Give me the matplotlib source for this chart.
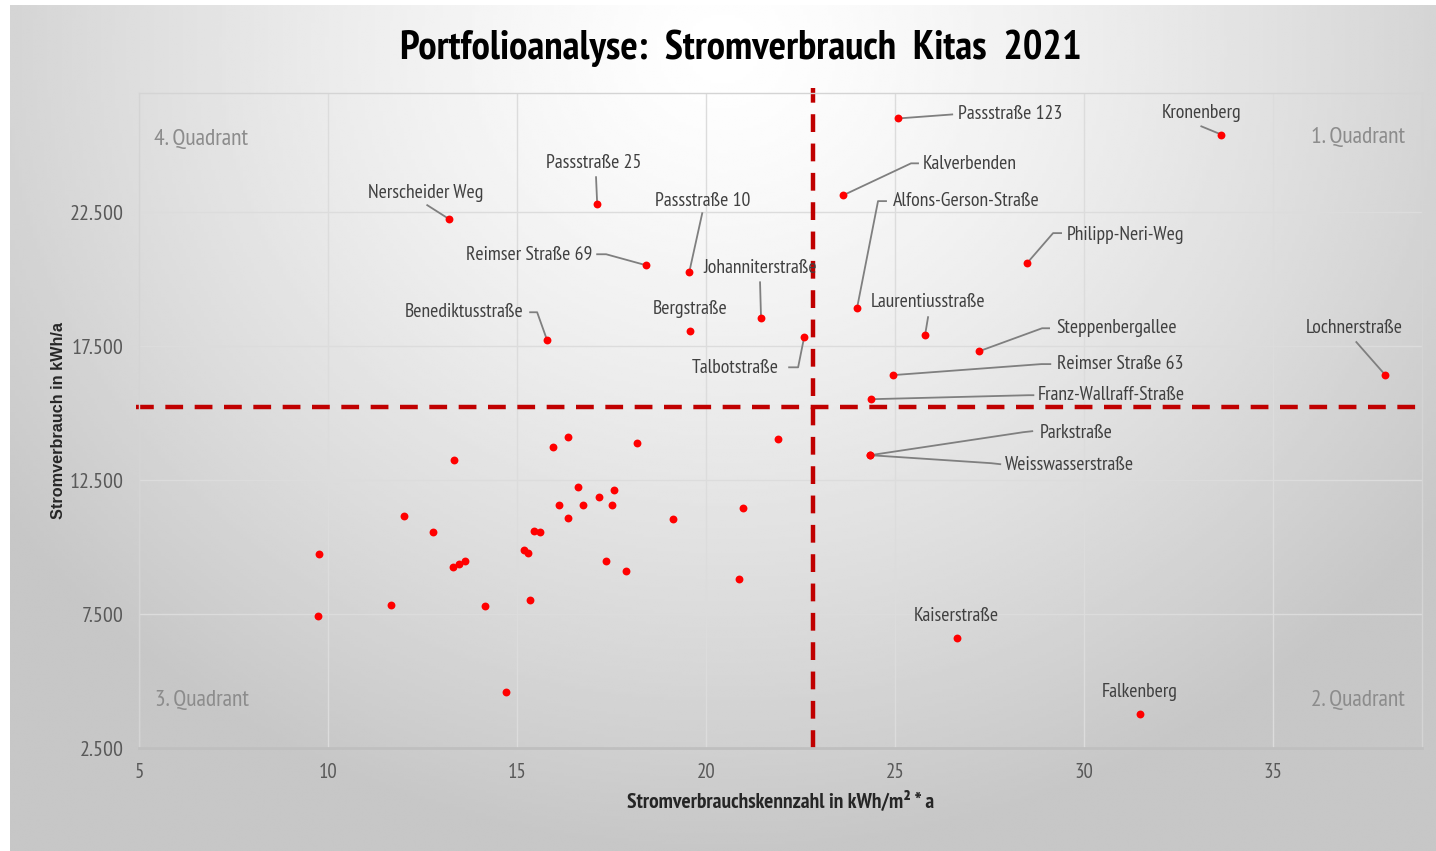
import numpy as np
import matplotlib
matplotlib.use("Agg")
import matplotlib.pyplot as plt
from matplotlib import font_manager
from matplotlib.ticker import FuncFormatter

# named kitas (x: kWh/m2*a, y: kWh/a)
names = ["Passstraße 123", "Kronenberg", "Kalverbenden", "Passstraße 25", "Nerscheider Weg",
         "Passstraße 10", "Alfons-Gerson-Straße", "Philipp-Neri-Weg", "Reimser Straße 69",
         "Johanniterstraße", "Bergstraße", "Laurentiusstraße", "Benediktusstraße", "Talbotstraße",
         "Steppenbergallee", "Reimser Straße 63", "Lochnerstraße", "Franz-Wallraff-Straße",
         "Parkstraße", "Weisswasserstraße", "Kaiserstraße", "Falkenberg"]
named_x = [25.09, 33.64, 23.63, 17.12, 13.21, 19.56, 24.0, 28.5, 18.42, 21.46, 19.58,
           25.8, 15.8, 22.6, 27.23, 24.96, 37.98, 24.38, 24.35, 24.35, 26.65, 31.5]
named_y = [26000, 25370, 23130, 22800, 22240, 20260, 18920, 20600, 20520, 18540, 18060,
           17910, 17720, 17830, 17310, 16420, 16420, 15520, 13430, 13430, 6600, 3770]

# other kitas without label
other_x = [21.91, 16.36, 15.96, 18.18, 13.34, 16.62, 17.57, 17.18, 16.12, 16.75, 17.52,
           12.01, 19.13, 20.99, 16.36, 12.78, 15.45, 15.61, 9.76, 15.19, 15.30, 17.36,
           13.47, 13.63, 13.31, 17.89, 20.88, 11.67, 14.16, 15.35, 9.74, 14.71]
other_y = [14030, 14100, 13730, 13880, 13250, 12240, 12130, 11870, 11570, 11570, 11570,
           11160, 11040, 11450, 11080, 10560, 10600, 10560, 9740, 9890, 9780, 9480,
           9370, 9480, 9250, 9100, 8810, 7840, 7800, 8020, 7430, 4590]

quad_x = 22.83
quad_y = 15220

# label layout in reference pixels relative to the point (dx right, dy down)
label_layout = {
    "Passstraße 123": (60, -4, "left", [(0, 0), (54, -4)]),
    "Kronenberg": (-20, -22, "center", [(-3, -2), (-20, -9)]),
    "Kalverbenden": (80, -31, "left", [(0, 0), (68, -32), (75, -32)]),
    "Passstraße 25": (-3, -41, "center", [(0, -4), (-1, -27)]),
    "Nerscheider Weg": (-24, -26, "center", [(0, 0), (-22, -14)]),
    "Passstraße 10": (13, -71, "center", [(0, 0), (13, -59)]),
    "Alfons-Gerson-Straße": (36, -107, "left", [(0, 0), (21, -107), (29, -107)]),
    "Philipp-Neri-Weg": (40, -28, "left", [(0, 0), (26, -30), (34, -30)]),
    "Reimser Straße 69": (-54, -10, "right", [(0, 0), (-40, -11), (-49, -11)]),
    "Johanniterstraße": (-58, -50, "left", [(0, 0), (-1, -36)]),
    "Bergstraße": (0, -22, "center", []),
    "Laurentiusstraße": (3, -33, "center", [(0, 0), (3, -18)]),
    "Benediktusstraße": (-24, -28, "right", [(0, 0), (-10, -28), (-17, -28)]),
    "Talbotstraße": (-25, 31, "right", [(0, 0), (-6, 30), (-15, 30)]),
    "Steppenbergallee": (77, -23, "left", [(0, 0), (63, -23), (70, -23)]),
    "Reimser Straße 63": (164, -11, "left", [(0, 0), (148, -11), (157, -11)]),
    "Lochnerstraße": (-31, -47, "center", [(0, 0), (-29, -33)]),
    "Franz-Wallraff-Straße": (166, -4, "left", [(0, 0), (157, -4), (162, -4)]),
    "Parkstraße": (169, -22, "left", [(0, 0), (153, -23), (162, -24)]),
    "Weisswasserstraße": (135, 10, "left", [(0, 0), (121, 8), (130, 9)]),
    "Kaiserstraße": (-1, -22, "center", []),
    "Falkenberg": (-1, -22, "center", []),
}

available = {f.name for f in font_manager.fontManager.ttflist}
narrow = "Liberation Sans"
for cand in ["Arial Narrow", "Liberation Sans Narrow", "PT Sans Narrow", "Archivo Narrow",
             "Roboto Condensed", "Fira Sans Condensed", "IBM Plex Sans Condensed"]:
    if cand in available:
        narrow = cand
        break
plt.rcParams['font.family'] = [narrow, 'DejaVu Sans']

W, H = 1436, 851
fig = plt.figure(figsize=(W / 100, H / 100), dpi=100)
fig.patch.set_facecolor("white")

# gray radial background
bg = fig.add_axes([10 / W, 0, 1 - 10 / W, 1 - 5 / H])
gx, gy = np.meshgrid(np.linspace(0, 1, 400), np.linspace(0, 1, 300))
r = np.sqrt(((gx - 0.5) / 0.62) ** 2 + ((gy - 0.05) / 0.95) ** 2)
val = 1.0 - 0.22 * np.clip(r, 0, 1) ** 1.3
bg.imshow(val, cmap="gray", vmin=0, vmax=1, aspect="auto", interpolation="bilinear",
          extent=(0, 1, 1, 0))
bg.set_axis_off()

ax = fig.add_axes([139 / W, 1 - 748 / H, (1422 - 139) / W, (748 - 93) / H])
ax.set_facecolor("none")
ax.set_xlim(5, 38.95)
ax.set_ylim(2500, 26950)
ax.set_xticks([5, 10, 15, 20, 25, 30, 35])
ax.set_yticks([2500, 7500, 12500, 17500, 22500])
ax.yaxis.set_major_formatter(FuncFormatter(lambda v, p: f"{v:,.0f}".replace(",", ".")))
ax.tick_params(length=0, labelsize=15, labelcolor="#595959")
ax.tick_params(axis="y", labelsize=15.8)
ax.tick_params(axis="x", pad=11)
ax.tick_params(axis="y", pad=11)
ax.grid(True, color="#dcdcdc", linewidth=1)
ax.set_axisbelow(True)
for s in ["top", "left", "right"]:
    ax.spines[s].set_color("#d4d4d4")
    ax.spines[s].set_linewidth(1)
ax.spines["bottom"].set_color("#bfbfbf")
ax.spines["bottom"].set_linewidth(2)

# quadrant lines
ax.axvline(quad_x, ymin=0, ymax=1.008, color="#c00000", linewidth=3.2, dashes=(4, 2.6),
           clip_on=False, zorder=2)
ax.axhline(quad_y, xmin=-0.002, xmax=1, color="#c00000", linewidth=3.2, dashes=(4, 2.6),
           clip_on=False, zorder=2)

ax.scatter(other_x, other_y, s=32, color="#ff0000", zorder=4, linewidths=0)
ax.scatter(named_x, named_y, s=32, color="#ff0000", zorder=4, linewidths=0)

inv = ax.transData.inverted()
for name, x, y in zip(names, named_x, named_y):
    dx, dy, ha, leader = label_layout[name]
    px, py = ax.transData.transform((x, y))
    if leader:
        pts = inv.transform([(px + a, py - b) for a, b in leader])
        ax.plot(pts[:, 0], pts[:, 1], color="#7f7f7f", linewidth=1.3, zorder=3)
    tx, ty = inv.transform((px + dx, py - dy))
    ax.text(tx, ty, name, ha=ha, va="center", fontsize=14.2, color="#404040", zorder=5)

quad_style = dict(fontsize=17, color="#8c8c8c", va="center", transform=ax.transAxes)
ax.text((154 - 139) / 1283, (748 - 139) / 655, "4. Quadrant", ha="left", **quad_style)
ax.text((1405 - 139) / 1283, (748 - 137) / 655, "1. Quadrant", ha="right", **quad_style)
ax.text((155 - 139) / 1283, (748 - 700) / 655, "3. Quadrant", ha="left", **quad_style)
ax.text((1405 - 139) / 1283, (748 - 700) / 655, "2. Quadrant", ha="right", **quad_style)

ax.set_xlabel("Stromverbrauchskennzahl in kWh/m² * a", fontsize=15.5, fontweight="bold",
              color="#262626", labelpad=6)
ax.set_ylabel("Stromverbrauch in kWh/a", fontsize=11.7, fontweight="bold",
              color="#262626", family=["Liberation Sans", "DejaVu Sans"], labelpad=3)

fig.text(741 / W, 1 - 48 / H, "Portfolioanalyse:  Stromverbrauch  Kitas  2021",
         ha="center", va="center", fontsize=29.5, fontweight="bold", color="black")

fig.savefig("out.png", dpi=100)
